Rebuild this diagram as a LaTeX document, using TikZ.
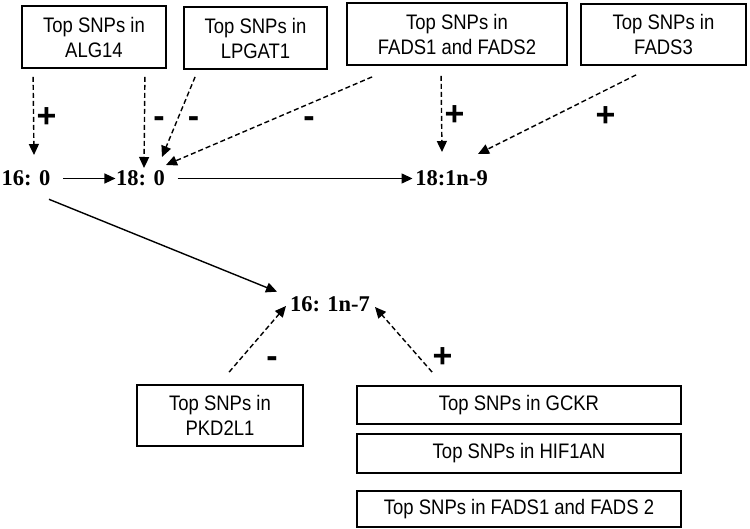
\documentclass[tikz,border=0pt]{standalone}
\usepackage{fontspec}
\setmainfont{Liberation Sans}
\newfontfamily\boxfont{Liberation Sans}[FakeStretch=0.88]
\newfontfamily\timesfont{Liberation Serif}
\usetikzlibrary{arrows.meta,positioning}

\begin{document}
\begin{tikzpicture}[x=1pt,y=-1pt,>={Triangle[length=11pt,width=10pt]},line width=1.4pt,node distance=8pt,
  snp/.style={draw,line width=1.8pt,inner sep=0pt,align=center,font=\boxfont\fontsize{21}{25}\selectfont},
  fa/.style={inner sep=0pt,font=\timesfont\bfseries\fontsize{22.5}{27}\selectfont},
  sgn/.style={inner sep=0pt,text height=23pt,text depth=0pt,font=\bfseries\fontsize{34}{34}\selectfont}]
  \useasboundingbox (0,0) rectangle (750,529);
  % fatty acids
  \node[fa] (1) at (26,178.5) {16: 0};
  \node[fa] (2) at (140.5,178.5) {18: 0};
  \node[fa] (3) at (451.5,178.5) {18:1n-9};
  \node[fa] (4) at (330,304) {16: 1n-7};
  % gene boxes
  \node[snp,minimum width=144pt,minimum height=62pt] (s1) at (94,37) {Top SNPs in\\ALG14};
  \node[snp,minimum width=143pt,minimum height=62pt] (s2) at (255.5,38) {Top SNPs in\\LPGAT1};
  \node[snp,minimum width=220pt,minimum height=62pt] (s3) at (457,34) {Top SNPs in\\FADS1 and FADS2};
  \node[snp,minimum width=165pt,minimum height=61pt] (s4) at (663.5,34.5) {Top SNPs in\\FADS3};
  \node[snp,minimum width=166pt,minimum height=61pt] (s5) at (220,415.5) {Top SNPs in\\PKD2L1};
  \node[snp,minimum width=324pt,minimum height=38pt] (s6) at (519,405) {Top SNPs in GCKR};
  \node[snp,minimum width=324pt,minimum height=39pt] (s7) [below=of s6] {Top SNPs in HIF1AN};
  \node[snp,minimum width=324pt,minimum height=36pt] (s8) [below=16pt of s7] {Top SNPs in FADS1 and FADS 2};

  \path[->]
    (1) edge[shorten <=12pt] (2)
    (2) edge[shorten <=12pt,shorten >=2pt] (3)
    ([shift={(23,20.8)}]1.center) edge ([shift={(-53,-12.3)}]4.center);

  \path[->,dash pattern=on 5pt off 3pt,every node/.style=sgn]
    ([shift={(12,8)}]s1.south west) edge node[shift={(13,0.5)}] {+} ([shift={(8,-23.5)}]1.center)
    ([shift={(-22,8)}]s1.south east) edge node[shift={(14.5,-6)}] {-} ([shift={(3.5,-10.5)}]2.center)
    ([shift={(12,7)}]s2.south west) edge node[shift={(15,-0.5)}] {-} ([shift={(21.5,-21.5)}]2.center)
    ([shift={(26,11)}]s3.south west) edge node[shift={(40,-4.5)}] {-} ([shift={(25.5,-13.5)}]2.center)
    ([shift={(95,10)}]s3.south west) edge node[shift={(13,0.5)}] {+} ([shift={(-9.5,-26.5)}]3.center)
    ([shift={(56,9)}]s4.south west) edge node[shift={(48.5,0.5)}] {+} ([shift={(26.5,-24.5)}]3.center)
    ([shift={(93,-12)}]s5.north west) edge node[shift={(14.5,17)}] {-} ([shift={(-44,2)}]4.center)
    ([shift={(76,-13)}]s6.north west) edge node[shift={(39,16.5)}] {+} ([shift={(45,3)}]4.center);
\end{tikzpicture}
\end{document}
